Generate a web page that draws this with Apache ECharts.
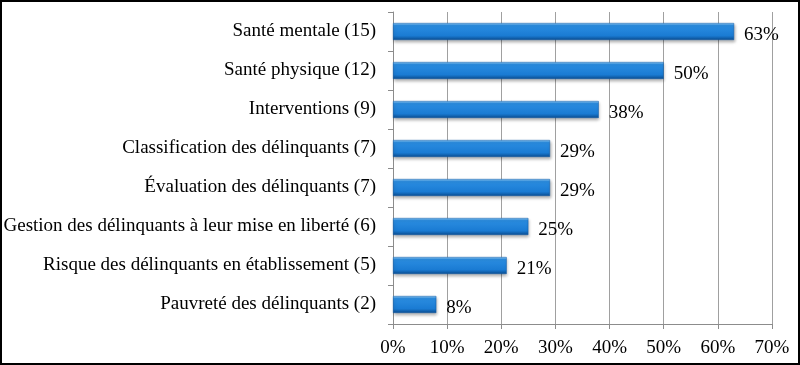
<!DOCTYPE html>
<html>
<head>
<meta charset="utf-8">
<script src="https://cdn.jsdelivr.net/npm/echarts@6/dist/echarts.min.js"></script>
<style>
html,body{margin:0;padding:0;background:#fff;}
#wrap{position:relative;width:800px;height:365px;}
#chart{width:800px;height:365px;}
#frame{position:absolute;left:0;top:0;width:800px;height:365px;box-sizing:border-box;border:2px solid #000;pointer-events:none;}
</style>
</head>
<body>
<div id="wrap"><div id="chart"></div><div id="frame"></div></div>
<script>
const categories = [
  "Santé mentale (15)",
  "Santé physique (12)",
  "Interventions (9)",
  "Classification des délinquants (7)",
  "Évaluation des délinquants (7)",
  "Gestion des délinquants à leur mise en liberté (6)",
  "Risque des délinquants en établissement (5)",
  "Pauvreté des délinquants (2)"
];
const values = [63, 50, 38, 29, 29, 25, 21, 8];
const xTicks = { min: 0, max: 70, interval: 10 };

const font = '"Liberation Serif", "Times New Roman", serif';
const chart = echarts.init(document.getElementById('chart'));
chart.setOption({
  animation: false,
  grid: { left: 393, right: 28, top: 12, bottom: 41, containLabel: false },
  xAxis: {
    type: 'value', min: xTicks.min, max: xTicks.max, interval: xTicks.interval,
    axisLabel: { formatter: '{value}%', fontFamily: font, fontSize: 19, color: '#000', margin: 15 },
    axisLine: { show: true, lineStyle: { color: '#8c8c8c', width: 1 } },
    axisTick: { show: true, length: 5, lineStyle: { color: '#8c8c8c' } },
    splitLine: { show: true, lineStyle: { color: '#a0a0a0', width: 1 } }
  },
  yAxis: {
    type: 'category', data: categories, inverse: true,
    axisLabel: { fontFamily: font, fontSize: 19, color: '#000', margin: 17 },
    axisLine: { show: true, lineStyle: { color: '#8c8c8c', width: 1 } },
    axisTick: { show: true, length: 5, lineStyle: { color: '#8c8c8c' } },
    splitLine: { show: false }
  },
  series: [{
    type: 'bar',
    data: values,
    barWidth: 17,
    itemStyle: {
      color: new echarts.graphic.LinearGradient(0, 0, 0, 1, [
        { offset: 0, color: '#8fcaf5' },
        { offset: 0.15, color: '#2b8de1' },
        { offset: 0.75, color: '#1a7bd3' },
        { offset: 1, color: '#0a4c8f' }
      ]),
      borderColor: '#0d5aa8',
      borderWidth: 0.5,
      shadowColor: 'rgba(0,0,0,0.3)',
      shadowBlur: 3,
      shadowOffsetX: 1,
      shadowOffsetY: 2
    },
    label: {
      show: true, position: 'right', distance: 10,
      formatter: '{c}%', fontFamily: font, fontSize: 19, color: '#000',
      offset: [0, 4]
    }
  }]
});
</script>
</body>
</html>
